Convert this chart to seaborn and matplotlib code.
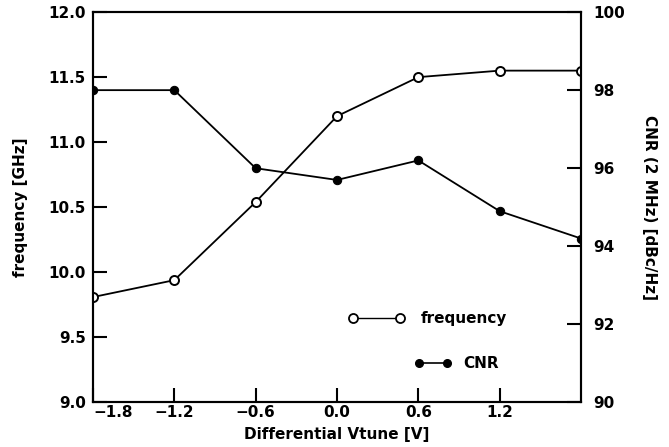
import matplotlib
matplotlib.use("Agg")
import matplotlib.pyplot as plt
import seaborn as sns
import pandas as pd
from matplotlib.lines import Line2D

vtune = [-1.8, -1.2, -0.6, 0.0, 0.6, 1.2, 1.8]
frequency_ghz = [9.81, 9.94, 10.54, 11.20, 11.50, 11.55, 11.55]
cnr_dbc = [98.0, 98.0, 96.0, 95.7, 96.2, 94.9, 94.2]
x_ticks = [-1.8, -1.2, -0.6, 0.0, 0.6, 1.2]
x_ticklabels = ["\u22121.8", "\u22121.2", "\u22120.6", "0.0", "0.6", "1.2"]
freq_ticks = [9.0, 9.5, 10.0, 10.5, 11.0, 11.5, 12.0]
cnr_ticks = [90, 92, 94, 96, 98, 100]

sns.set_style("ticks")
plt.rcParams['font.family'] = ['DejaVu Sans']
plt.rcParams['font.weight'] = 'bold'
plt.rcParams['text.color'] = 'black'
plt.rcParams['axes.labelcolor'] = 'black'
plt.rcParams['xtick.color'] = 'black'
plt.rcParams['ytick.color'] = 'black'

df = pd.DataFrame({"vtune": vtune, "frequency": frequency_ghz, "cnr": cnr_dbc})

fig = plt.figure(figsize=(6.69, 4.47), dpi=100)
ax = fig.add_axes([0.139, 0.0996, 0.7295, 0.8734])
ax2 = ax.twinx()

sns.lineplot(data=df, x="vtune", y="frequency", ax=ax, color="black", lw=1.3,
             marker="o", markersize=6.5, markerfacecolor="white",
             markeredgecolor="black", markeredgewidth=1.4, zorder=3)
sns.lineplot(data=df, x="vtune", y="cnr", ax=ax2, color="black", lw=1.3,
             marker="o", markersize=6, markerfacecolor="black",
             markeredgecolor="black", zorder=3)

ax.set_xlim(-1.8, 1.8)
ax.set_ylim(9.0, 12.0)
ax2.set_ylim(90, 100)
ax.set_xticks(x_ticks)
ax.set_xticklabels(x_ticklabels)
ax.set_yticks(freq_ticks)
ax.set_yticklabels([f"{t:.1f}" for t in freq_ticks])
ax2.set_yticks(cnr_ticks)
ax2.set_yticklabels([str(t) for t in cnr_ticks])

for a in (ax, ax2):
    for s in a.spines.values():
        s.set_visible(True)
        s.set_linewidth(1.5)
        s.set_color("black")
ax.tick_params(axis="both", direction="in", length=10, width=1.5,
               labelsize=11, pad=2, colors="black")
ax.tick_params(axis="y", pad=5)
ax2.tick_params(axis="y", direction="in", length=10, width=1.5,
                labelsize=11, pad=9, colors="black")
for lab in ax.get_xticklabels() + ax.get_yticklabels() + ax2.get_yticklabels():
    lab.set_fontweight("bold")
ax.get_xticklabels()[0].set_horizontalalignment("left")

ax.set_xlabel("Differential Vtune [V]", fontsize=11, fontweight="bold",
              labelpad=5, color="black")
ax.set_ylabel("frequency [GHz]", fontsize=11, fontweight="bold",
              labelpad=15, color="black")
ax2.set_ylabel("CNR (2 MHz) [dBc/Hz]", fontsize=11, fontweight="bold",
               rotation=270, labelpad=23, color="black")

h1 = Line2D([0], [0], color="black", lw=1.0, marker="o", markersize=6.5,
            markerfacecolor="white", markeredgecolor="black", markeredgewidth=1.3)
h2 = Line2D([0], [0], color="black", lw=1.2, marker="o", markersize=5.5,
            markerfacecolor="black", markeredgecolor="black")
leg1 = ax.legend([h1], ["frequency"], loc="center left",
                 bbox_to_anchor=(0.524, 0.214), frameon=False, numpoints=2,
                 handlelength=3.67, handletextpad=1.07, borderpad=0,
                 borderaxespad=0, prop={"size": 11, "weight": "bold"})
ax.add_artist(leg1)
leg2 = ax.legend([h2], ["CNR"], loc="center left",
                 bbox_to_anchor=(0.659, 0.0986), frameon=False, numpoints=2,
                 handlelength=2.43, handletextpad=0.75, borderpad=0,
                 borderaxespad=0, prop={"size": 11, "weight": "bold"})

ax.grid(False)
ax2.grid(False)
fig.savefig("out.png", dpi=100)
